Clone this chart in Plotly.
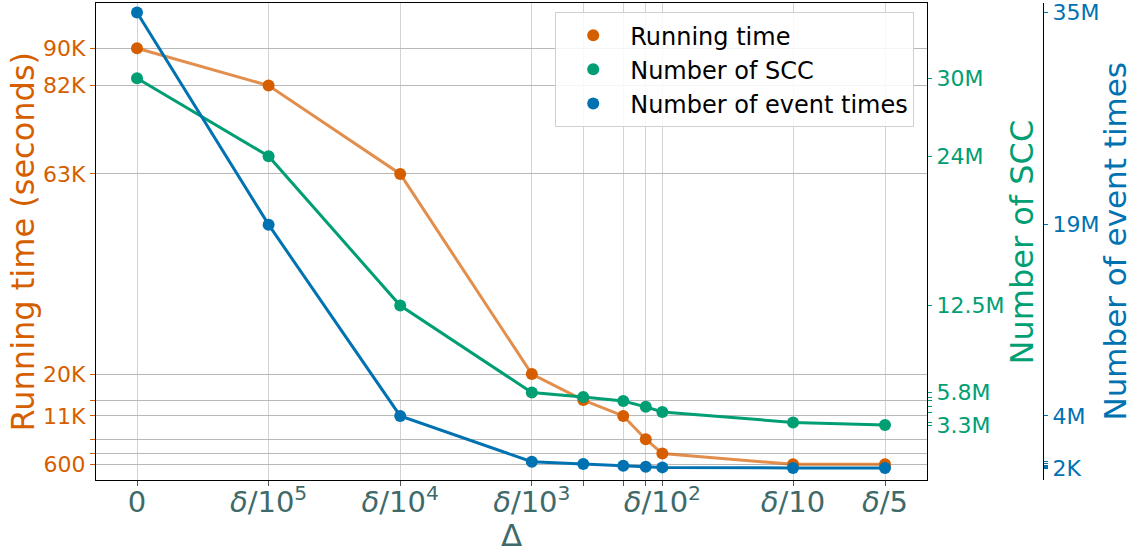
import plotly.graph_objects as go

# ---------------- data ----------------
x_pos = [0, 1, 2, 3, 3.391, 3.695, 3.866, 3.992, 4.985, 5.684]
x_labels = ["0", "<i>δ</i>/10<sup>5</sup>", "<i>δ</i>/10<sup>4</sup>", "<i>δ</i>/10<sup>3</sup>",
            "", "", "", "<i>δ</i>/10<sup>2</sup>", "<i>δ</i>/10", "<i>δ</i>/5"]

running_time = [90000, 82000, 63000, 20000, 14400, 11000, 6000, 2900, 600, 600]
num_scc = [30.0e6, 24.0e6, 12.5e6, 5.8e6, 5.45e6, 5.15e6, 4.7e6, 4.3e6, 3.5e6, 3.3e6]
num_events = [35.0e6, 18.7e6, 4.0e6, 0.48e6, 0.31e6, 0.18e6, 0.10e6, 0.05e6, 0.002e6, 0.002e6]

rt_ticktext = ["90K", "82K", "63K", "20K", "", "11K", "", "", "600", ""]
scc_ticktext = ["30M", "24M", "12.5M", "5.8M", "", "", "", "", "", "3.3M"]
ev_ticktext = ["35M", "19M", "4M", "", "", "", "", "", "2K", ""]

C_RT = "#d55e00"
C_SCC = "#009e73"
C_EV = "#0072b2"
C_X = "#3f6a6a"
FONT = "DejaVu Sans"

fig = go.Figure()

# running time: markers, then semi-transparent line on top
fig.add_trace(go.Scatter(x=x_pos, y=running_time, mode="markers", yaxis="y",
                         marker=dict(color=C_RT, size=12), showlegend=False))
fig.add_trace(go.Scatter(x=x_pos, y=running_time, mode="lines", yaxis="y",
                         line=dict(color="rgba(213,94,0,0.7)", width=3), showlegend=False))
fig.add_trace(go.Scatter(x=x_pos, y=num_scc, mode="lines+markers", yaxis="y2",
                         line=dict(color=C_SCC, width=3), marker=dict(color=C_SCC, size=12),
                         showlegend=False))
fig.add_trace(go.Scatter(x=x_pos, y=num_events, mode="lines+markers", yaxis="y3",
                         line=dict(color=C_EV, width=3), marker=dict(color=C_EV, size=12),
                         showlegend=False))

# legend entries (markers only)
for name, c, g in [("Running time", C_RT, "a"), ("Number of SCC", C_SCC, "b"),
                   ("Number of event times", C_EV, "c")]:
    fig.add_trace(go.Scatter(x=[None], y=[None], mode="markers", name=name, legendgroup=g,
                             marker=dict(color=c, size=12)))

fig.update_layout(
    width=1137, height=552,
    margin=dict(l=96, r=94, t=3, b=72, autoexpand=False),
    paper_bgcolor="white", plot_bgcolor="white",
    font=dict(family=FONT),
    xaxis=dict(domain=[0, 0.8775], range=[-0.3116, 6.003], automargin=False,
               tickvals=x_pos, ticktext=x_labels,
               tickfont=dict(size=29, color=C_X),
               ticks="outside", ticklen=5, tickcolor="#555", ticklabelstandoff=-9,
               showgrid=True, gridcolor="#d3d3d3", gridwidth=1.3,
               showline=True, linecolor="black", linewidth=1.2, mirror=True,
               zeroline=False),
    yaxis=dict(range=[-2772, 99735], tickvals=running_time, ticktext=rt_ticktext, automargin=False,
               tickfont=dict(size=22, color=C_RT), ticks="outside", ticklen=5, tickcolor=C_RT,
               showgrid=True, gridcolor="#b8b8b8", gridwidth=1.3,
               showline=True, linecolor="black", linewidth=1.2, mirror=True,
               zeroline=False),
    yaxis2=dict(overlaying="y", side="right", anchor="x", automargin=False,
                range=[-0.936e6, 35.80e6], tickvals=num_scc, ticktext=scc_ticktext,
                tickfont=dict(size=22, color=C_SCC), ticks="outside", ticklen=4, tickcolor=C_SCC,
                showgrid=False, zeroline=False),
    yaxis3=dict(overlaying="y", side="right", anchor="free", position=1.0, automargin=False,
                range=[-0.92e6, 35.73e6], tickvals=num_events, ticktext=ev_ticktext,
                tickfont=dict(size=22, color=C_EV), ticks="outside", ticklen=4, tickcolor=C_EV,
                showgrid=False, zeroline=False,
                showline=True, linecolor="black", linewidth=1.2),
    legend=dict(x=0.864, xanchor="right", y=0.981, yanchor="top",
                bgcolor="rgba(255,255,255,0.85)", bordercolor="#d0d0d0", borderwidth=1,
                font=dict(size=24, color="black", family=FONT),
                tracegroupgap=0, itemwidth=64),
    annotations=[
        dict(text="Running time (seconds)", xref="paper", yref="paper", x=-0.0771, y=0.5,
             textangle=-90, showarrow=False, xanchor="center", yanchor="middle",
             font=dict(size=32, color=C_RT)),
        dict(text="Number of SCC", xref="paper", yref="paper", x=0.9778, y=0.5,
             textangle=-90, showarrow=False, xanchor="center", yanchor="middle",
             font=dict(size=32, color=C_SCC)),
        dict(text="Number of event times", xref="paper", yref="paper", x=1.0750, y=0.5,
             textangle=-90, showarrow=False, xanchor="center", yanchor="middle",
             font=dict(size=31, color=C_EV)),
        dict(text="Δ", xref="paper", yref="paper", x=0.4390, y=-0.1153,
             showarrow=False, xanchor="center", yanchor="middle",
             font=dict(size=31, color=C_X)),
    ],
)

fig.write_html("out.html", config={"displayModeBar": False},
               post_script="document.body.style.margin='0';document.body.style.overflow='hidden';")
